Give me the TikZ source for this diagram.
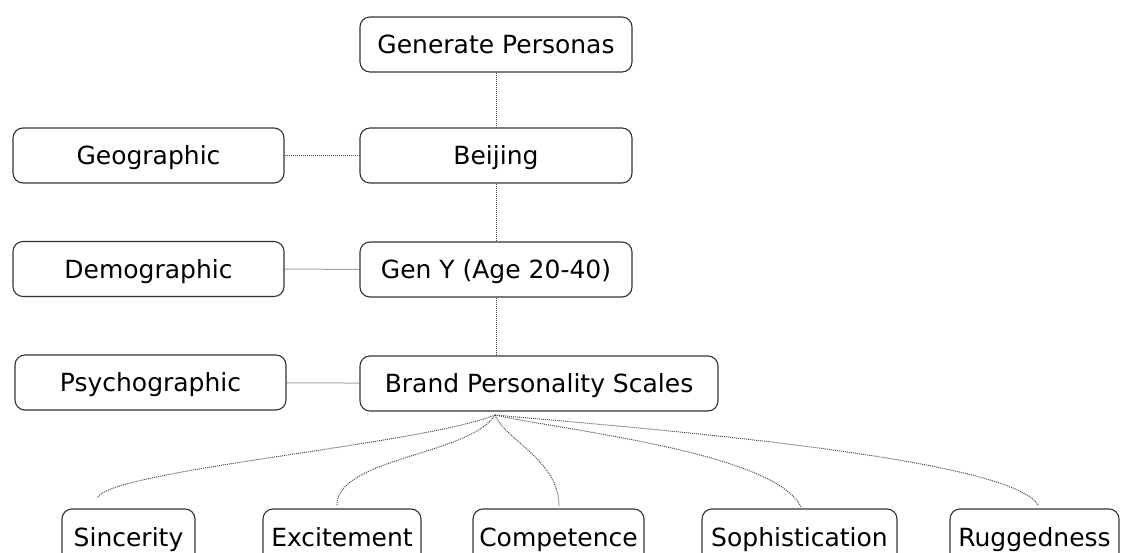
\documentclass[tikz,border=0pt]{standalone}
\usepackage{fontspec}
\setmainfont{DejaVu Sans}
\tikzset{
  box/.style={draw=black!80, line width=1.1pt, rounded corners=10pt,
    minimum height=55pt, inner sep=0pt, text height=23pt, text depth=5pt,
    font=\fontsize{25}{30}\selectfont},
  topbox/.style={box, minimum width=272pt},
  sidebox/.style={box, minimum width=271pt},
  leaf/.style={box, minimum height=56pt},
  link/.style={densely dotted, draw=black!70, line width=1pt}
}
\begin{document}
\begin{tikzpicture}[x=1pt,y=-1pt]
  \useasboundingbox (0,0) rectangle (1121,553);
  % middle column
  \node[topbox] (gen) at (496,44.5) {Generate Personas};
  \node[topbox] (bej) at (496,155.5) {Beijing};
  \node[topbox] (geny) at (496,269.5) {Gen Y (Age 20-40)};
  \node[box, minimum width=358pt] (bps) at (539,383.5) {Brand Personality Scales};
  % left column
  \node[sidebox] (geo) at (148.5,155.5) {Geographic};
  \node[sidebox] (demo) at (148.5,269) {Demographic};
  \node[sidebox] (psy) at (150.5,382.5) {Psychographic};
  % scales
  \foreach \name/\x/\w/\txt in {sinc/128.5/133/Sincerity,exci/342/158/Excitement,
      comp/558.5/171/Competence,soph/799.5/195/Sophistication,rugg/1034.5/169/Ruggedness}
    \node[leaf, minimum width=\w] (\name) at (\x,537) {\txt};
  \draw[link] (gen) -- (bej) -- (geny) -- (geny.south |- bps.north);
  \draw[link] (geo) -- (bej);
  \draw[link] (demo) -- (geny);
  \draw[link] (psy) -- (bps);
  % curved ties
  \coordinate (hub) at (495,415);
  \coordinate (sinc-end) at (97,498);
  \coordinate (exci-end) at (337,505);
  \coordinate (comp-end) at (559,506);
  \coordinate (soph-end) at (801,507);
  \coordinate (rugg-end) at (1038,505);
  \draw[link] (hub) .. controls (420,445) and (110,470) .. (sinc-end);
  \draw[link] (hub) .. controls (470,455) and (337,458) .. (exci-end);
  \draw[link] (hub) .. controls (505,440) and (559,460) .. (comp-end);
  \draw[link] (hub) .. controls (560,430) and (775,452) .. (soph-end);
  \draw[link] (hub) .. controls (600,425) and (1010,455) .. (rugg-end);
\end{tikzpicture}
\end{document}
